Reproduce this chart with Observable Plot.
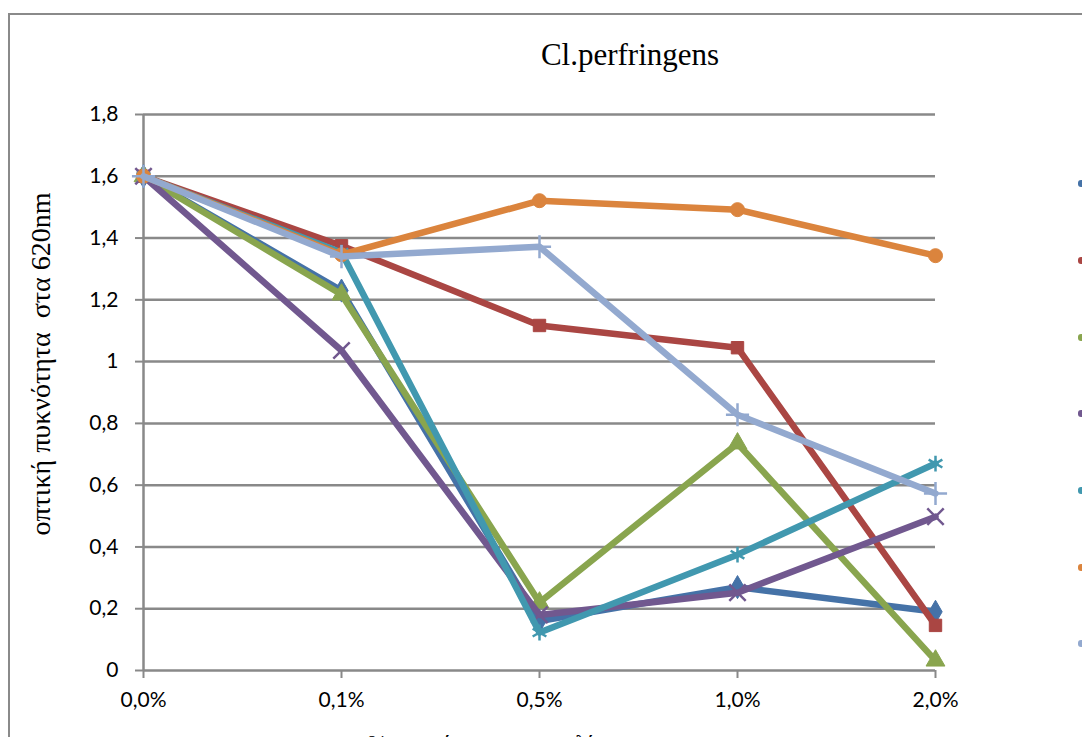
<!DOCTYPE html>
<html>
<head>
<meta charset="utf-8">
<script src="https://cdn.jsdelivr.net/npm/d3@7"></script>
<script src="https://cdn.jsdelivr.net/npm/@observablehq/plot@0.6"></script>
<style>
  body { margin: 0; background: #fff; }
  #wrap { position: relative; width: 1082px; height: 737px; overflow: hidden; background: #fff; }
  #border { position: absolute; left: 8px; top: 13px; width: 1300px; height: 900px; border: 2px solid #8a8a8a; box-sizing: border-box; }
  #chart { position: absolute; left: 0; top: 0; }
  #title { position: absolute; left: 430px; width: 400px; top: 38px; text-align: center; font-family: "Liberation Serif", "DejaVu Serif", serif; font-size: 31px; line-height: 34px; color: #000; }
  #ylabel { position: absolute; left: 41px; top: 364px; transform: translate(-50%, -50%) rotate(-90deg); white-space: pre; font-family: "Liberation Serif", "DejaVu Serif", serif; font-size: 28px; color: #000; }
  #xlabel { position: absolute; left: 515px; top: 728px; transform: translateX(-50%); white-space: pre; font-family: "Liberation Serif", "DejaVu Serif", serif; font-size: 24px; line-height: 30px; color: #000; }
  .leg { position: absolute; left: 1078px; width: 6px; height: 7px; border-radius: 3px; }
</style>
</head>
<body>
<div id="wrap">
  <div id="border"></div>
  <div id="chart"></div>
  <div id="title"></div>
  <div id="ylabel"></div>
  <div id="xlabel"></div>
</div>
<script>
// ---- data ----
const titleText = "Cl.perfringens";
const yTitle = "οπτική πυκνότητα  στα 620nm";
const xTitle = "% συγκέντρωση εκχυλίσματος";
const categories = ["0,0%", "0,1%", "0,5%", "1,0%", "2,0%"];
const seriesNames = ["Σειρά1", "Σειρά2", "Σειρά3", "Σειρά4", "Σειρά5", "Σειρά6", "Σειρά7"];
const s1 = [1.6, 1.23, 0.16, 0.27, 0.19];
const s2 = [1.6, 1.375, 1.117, 1.045, 0.146];
const s3 = [1.6, 1.217, 0.22, 0.735, 0.032];
const s4 = [1.6, 1.036, 0.18, 0.252, 0.498];
const s5 = [1.6, 1.353, 0.123, 0.375, 0.67];
const s6 = [1.6, 1.346, 1.521, 1.492, 1.343];
const s7 = [1.6, 1.34, 1.372, 0.828, 0.573];
const yTicks = [0, 0.2, 0.4, 0.6, 0.8, 1, 1.2, 1.4, 1.6, 1.8];
const colors = ["#4572A7", "#AA4643", "#89A54E", "#71588F", "#4198AF", "#DB843D", "#93A9CF"];
const symbols = ["diamond", "square", "triangle", "times", "asterisk", "circle", "plus"];

const seriesValues = [s1, s2, s3, s4, s5, s6, s7];
const rows = seriesValues.flatMap((vals, i) =>
  vals.map((v, j) => ({series: seriesNames[i], conc: categories[j], value: v}))
);

const fmt = d => String(d).replace(".", ",");
const grid = "#898989";

const marks = [
  Plot.gridY(yTicks.filter(d => d > 0), {stroke: grid, strokeOpacity: 1, strokeWidth: 2.5}),
  Plot.ruleY([0], {stroke: grid, strokeWidth: 2.5}),
  Plot.ruleX([categories[0]], {stroke: grid, strokeWidth: 2.5}),
  Plot.axisY({ticks: yTicks, tickFormat: fmt, tickSize: 8, tickPadding: 17, stroke: grid, strokeWidth: 2, fill: "#000", fontSize: 21}),
  Plot.axisX({tickSize: 8, tickPadding: 14, stroke: grid, strokeWidth: 2, fill: "#000", fontSize: 21})
];
seriesNames.forEach((name, i) => {
  const d = rows.filter(r => r.series === name);
  marks.push(Plot.line(d, {x: "conc", y: "value", stroke: "series", strokeWidth: 6.5, strokeLinejoin: "round"}));
  const filled = ["diamond", "square", "triangle", "circle"].includes(symbols[i]);
  marks.push(Plot.dot(d, {
    x: "conc", y: "value", symbol: "series",
    fill: filled ? "series" : "none", stroke: "series",
    strokeWidth: filled ? 1 : 2.5, r: filled ? 7 : 7.5
  }));
});

const chart = Plot.plot({
  width: 1082,
  height: 737,
  marginLeft: 143,
  marginRight: 147,
  marginTop: 114,
  marginBottom: 67,
  style: {fontFamily: "Lato, sans-serif", fontSize: "21px", background: "transparent", color: "#000"},
  x: {type: "point", domain: categories, padding: 0, label: null, axis: null},
  y: {domain: [0, 1.8], label: null, axis: null},
  color: {domain: seriesNames, range: colors},
  symbol: {domain: seriesNames, range: symbols},
  marks
});
document.getElementById("chart").appendChild(chart);
document.getElementById("title").textContent = titleText;
document.getElementById("ylabel").textContent = yTitle;
document.getElementById("xlabel").textContent = xTitle;

// legend stubs (the legend is cut off at the right edge)
const legY = [183, 260, 337, 413, 490, 567, 643];
seriesNames.forEach((n, i) => {
  const el = document.createElement("div");
  el.className = "leg";
  el.style.top = (legY[i] - 3) + "px";
  el.style.background = colors[i];
  document.getElementById("wrap").appendChild(el);
});
</script>
</body>
</html>
